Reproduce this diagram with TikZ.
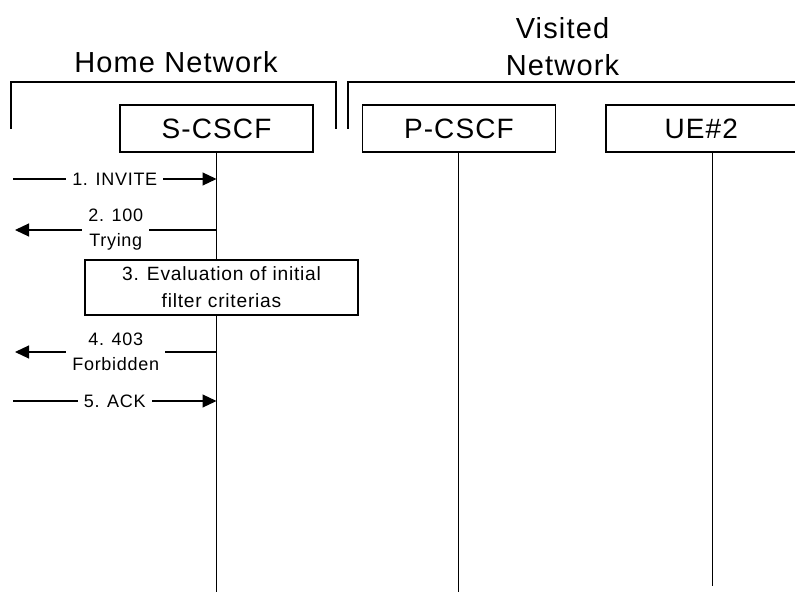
\documentclass[tikz,border=0pt]{standalone}
\usepackage{fontspec}
\setmainfont{Liberation Sans}[LetterSpace=4]
\usetikzlibrary{arrows.meta,positioning}

\begin{document}
\begin{tikzpicture}[x=0.5pt,y=-0.5pt,node distance=24pt,>={Triangle[length=7pt,width=6.5pt]}, every node/.style={font=\fontsize{9}{12.5}\selectfont}]
\tikzstyle{entity}=[draw,fill=white,line width=0.7pt,minimum width=96.5pt,minimum height=23.5pt,inner sep=0pt,font=\fontsize{14}{18}\selectfont]
\tikzstyle{title}=[align=center,font=\fontsize{14.5}{18.5}\selectfont]
\tikzstyle{msg}=[->,line width=0.55pt]
\tikzstyle{lbl}=[midway,fill=white,align=center,inner sep=3pt]
\tikzstyle{bracket}=[line width=0.8pt]
\useasboundingbox (0,0) rectangle (795,592);
% network titles and brackets
\node[title] (home) at (176,62) {Home Network};
\node[title] (visited) at (562.5,46.5) {Visited\\Network};
\draw[bracket] (11,129) -- (11,82) -- (336,82) -- (336,129);
\draw[bracket] (348,129) -- (348,82) -- (795,82);
% entities
\node[entity] (scscf) at (216.5,128.5) {S-CSCF};
\node[entity,right=of scscf] (pcscf) {P-CSCF};
\node[entity,minimum width=95.5pt,right=24.5pt of pcscf] (ue) {UE\#2};
% lifelines
\coordinate (bot) at (0,592);
\coordinate (uebot) at (712,586);
\draw[line width=0.75pt] (scscf.south) -- (scscf.south |- bot);
\draw[line width=0.5pt] (pcscf.south) -- (pcscf.south |- bot);
\draw[line width=0.5pt] (ue.south -| uebot) -- (uebot);
% messages
\coordinate (m1) at (13,179);
\coordinate (m2) at (15,230);
\coordinate (m4) at (15,352);
\coordinate (m5) at (13,401);
\draw[msg] (m1) -- (m1 -| scscf) node[lbl] {1. INVITE};
\draw[msg] (m2 -| scscf) -- (m2) node[lbl] {2. 100\\Trying};
\node[draw,fill=white,line width=0.6pt,minimum width=136.5pt,minimum height=27.5pt,align=center,font=\fontsize{9.6}{13.5}\selectfont] (ifc) at (221.5,287.5) {3. Evaluation of initial\\filter criterias};
\draw[msg] (m4 -| scscf) -- (m4) node[lbl] {4. 403\\Forbidden};
\draw[msg] (m5) -- (m5 -| scscf) node[lbl] {5. ACK};
\end{tikzpicture}
\end{document}
